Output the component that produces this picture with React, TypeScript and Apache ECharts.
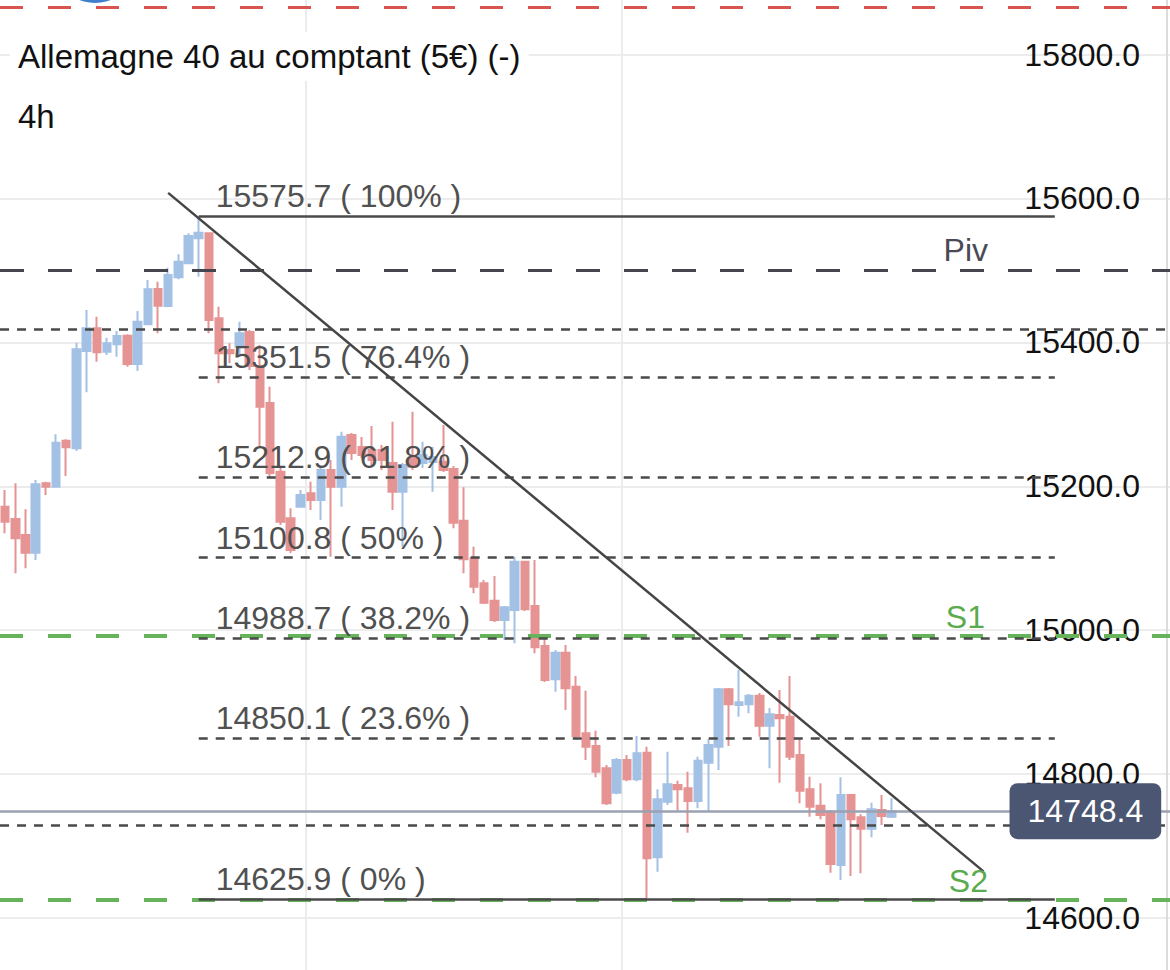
import React, { useEffect, useRef } from 'react';
import * as echarts from 'echarts';

const FONT = '"Liberation Sans", Arial, Helvetica, sans-serif';

// OHLC (4h candles, DAX / Allemagne 40)
const opens = [
  15171.6, 15154.5, 15132.3, 15107.6, 15204.1, 15199.4, 15263.3, 15252.7, 15388.0, 15419.5,
  15387.0, 15397.3, 15409.2, 15369.9, 15425.1, 15474.1, 15450.5, 15490.4, 15509.8, 15544.6,
  15551.5, 15433.4, 15389.3, 15393.9, 15414.4, 15367.1, 15315.7, 15220.2, 15155.5, 15171.6,
  15190.2, 15180.9, 15222.6, 15199.4, 15271.2, 15254.5, 15250.4, 15250.4, 15232.3, 15192.4,
  15239.3, 15232.3, 15233.7, 15234.1, 15224.0, 15152.1, 15099.9, 15065.1, 15041.0, 15014.1,
  15028.0, 15095.1, 15033.6, 14978.0, 14931.7, 14968.7, 14921.4, 14856.7, 14839.0, 14808.0,
  14774.1, 14819.6, 14792.7, 14829.7, 14684.4, 14761.6, 14784.8, 14780.2, 14762.6, 14815.8,
  14838.1, 14917.8, 14896.0, 14897.0, 14908.9, 14867.2, 14882.1, 14879.8, 14826.5, 14778.8,
  14756.1, 14747.7, 14673.7, 14770.9, 14739.9, 14724.1, 14750.1, 14740.8,
];
const closes = [
  15150.7, 15127.7, 15107.6, 15202.7, 15199.4, 15260.5, 15254.1, 15390.3, 15419.5, 15386.2,
  15398.7, 15408.8, 15369.9, 15428.7, 15473.7, 15450.9, 15493.6, 15512.1, 15547.8, 15552.4,
  15431.0, 15384.8, 15384.8, 15412.6, 15367.1, 15310.6, 15218.4, 15150.7, 15111.4, 15187.8,
  15180.9, 15222.6, 15199.4, 15268.9, 15246.2, 15243.4, 15236.5, 15236.5, 15192.4, 15229.5,
  15227.2, 15243.4, 15240.7, 15222.6, 15149.4, 15098.5, 15060.4, 15038.2, 15014.1, 15031.8,
  15095.1, 15029.0, 14976.2, 14930.8, 14968.7, 14919.2, 14852.9, 14838.1, 14803.3, 14759.4,
  14819.6, 14792.7, 14828.9, 14683.0, 14765.0, 14785.8, 14778.8, 14762.6, 14818.6, 14840.4,
  14917.8, 14897.0, 14899.7, 14908.9, 14867.2, 14883.1, 14877.5, 14824.2, 14776.9, 14754.7,
  14743.1, 14675.0, 14770.9, 14737.2, 14724.1, 14751.0, 14741.8, 14748.4,
];
const lows = [
  15134.6, 15079.0, 15086.0, 15097.5, 15187.8, 15199.0, 15214.2, 15249.0, 15330.6, 15373.1,
  15382.4, 15380.0, 15366.1, 15360.2, 15424.1, 15412.6, 15448.7, 15487.6, 15508.4, 15491.2,
  15412.6, 15343.1, 15370.9, 15380.0, 15361.6, 15255.0, 15211.5, 15146.2, 15107.2, 15171.2,
  15167.0, 15153.1, 15102.1, 15171.6, 15236.5, 15239.3, 15228.1, 15222.6, 15167.0, 15116.0,
  15222.6, 15225.4, 15192.4, 15219.8, 15141.6, 15079.0, 15051.2, 15036.4, 15011.3, 14986.3,
  14981.7, 15026.6, 14967.8, 14928.0, 14914.5, 14889.1, 14850.0, 14819.6, 14795.5, 14757.0,
  14772.0, 14790.0, 14790.0, 14627.4, 14664.3, 14757.0, 14747.7, 14718.5, 14752.5, 14749.1,
  14805.7, 14839.0, 14879.8, 14884.5, 14852.0, 14808.0, 14788.0, 14819.6, 14759.4, 14740.8,
  14737.2, 14663.0, 14652.8, 14658.4, 14662.1, 14712.1, 14729.2, 14739.0,
];
const highs = [
  15194.8, 15204.1, 15168.0, 15208.7, 15206.3, 15272.2, 15265.3, 15399.5, 15444.9, 15435.6,
  15406.4, 15415.7, 15411.2, 15443.5, 15486.6, 15484.3, 15503.7, 15522.3, 15551.5, 15575.7,
  15553.0, 15449.5, 15398.7, 15428.7, 15417.2, 15396.3, 15338.3, 15228.1, 15169.4, 15194.8,
  15206.3, 15226.8, 15236.5, 15275.8, 15274.0, 15268.4, 15283.7, 15257.3, 15289.7, 15232.3,
  15303.6, 15261.9, 15254.5, 15285.1, 15228.1, 15198.5, 15116.0, 15069.7, 15075.3, 15033.6,
  15102.1, 15096.5, 15097.5, 14987.3, 14972.5, 14979.4, 14936.3, 14915.9, 14860.3, 14812.6,
  14822.3, 14826.5, 14852.9, 14838.1, 14778.8, 14831.1, 14790.8, 14803.3, 14824.2, 14848.7,
  14919.6, 14919.6, 14944.6, 14911.3, 14912.7, 14891.8, 14916.9, 14936.3, 14848.3, 14796.4,
  14787.2, 14750.0, 14795.5, 14772.0, 14744.0, 14760.2, 14770.9, 14766.3,
];

// time slots (candles + empty space on the right)
const SLOT_COUNT = 115;
const slots = Array.from({ length: SLOT_COUNT }, (_, i) => `${i}`);
const dayBreaks = [30, 61];

// price axis ticks shown in the picture
const yTicks = { min: 14400, max: 16000, step: 200 };
const yTickLabels = [14600, 14800, 15000, 15200, 15400, 15600, 15800];

// Fibonacci retracement
const fibValues = [15575.7, 15351.5, 15212.9, 15100.8, 14988.7, 14850.1, 14625.9];
const fibPercents = ['100%', '76.4%', '61.8%', '50%', '38.2%', '23.6%', '0%'];
const fibStartSlot = 19;
const fibEndSlot = 103;

// other levels
const resistanceLevel = 15866;
const pivotLevel = 15500;
const s1Level = 14992;
const s2Level = 14625;
const dottedLevels = [15418, 14728.3];
const lastPrice = 14748.4;
const trendStart: [number, number] = [16, 15607.7];
const trendEnd: [number, number] = [96, 14664.8];
const priceTagSlot = 106;

const DARK = '#4a4a4a';
const GREEN = '#66b35b';

export default function App() {
  const ref = useRef<HTMLDivElement>(null);

  useEffect(() => {
    if (!ref.current) return;
    const chart = echarts.init(ref.current, undefined, { renderer: 'svg' });

    const candles = opens.map((o, i) => [o, closes[i], lows[i], highs[i]]);

    const fibLines = fibValues.map((v, i) => {
      const edge = i === 0 || i === fibValues.length - 1;
      return [
        {
          coord: [fibStartSlot, v],
          lineStyle: { color: DARK, width: 2.5, type: edge ? 'solid' : [9, 8] },
          label: {
            show: true,
            position: 'insideStartTop',
            distance: [17, 4],
            formatter: `${v.toFixed(1)} ( ${fibPercents[i]} )`,
            fontSize: 32,
            color: '#505050',
            fontFamily: FONT,
          },
        },
        { coord: [fibEndSlot, v] },
      ];
    });

    const levelLines: any[] = [
      {
        yAxis: resistanceLevel,
        lineStyle: { color: '#d9534f', width: 3, type: [23, 25] },
      },
      {
        yAxis: pivotLevel,
        lineStyle: { color: '#45454d', width: 3, type: [24, 24] },
        label: {
          show: true, position: 'insideEndTop', distance: [184, 4], formatter: 'Piv',
          fontSize: 32, color: '#4a4a55', fontFamily: FONT,
        },
      },
      {
        yAxis: s1Level,
        lineStyle: { color: GREEN, width: 4, type: [23, 25] },
        label: {
          show: true, position: 'insideEndTop', distance: [187, 3], formatter: 'S1',
          fontSize: 32, color: '#5aab4e', fontFamily: FONT,
        },
      },
      {
        yAxis: s2Level,
        lineStyle: { color: GREEN, width: 4, type: [23, 25] },
        label: {
          show: true, position: 'insideEndTop', distance: [184, 3], formatter: 'S2',
          fontSize: 32, color: '#5aab4e', fontFamily: FONT,
        },
      },
      ...dottedLevels.map((v) => ({
        yAxis: v,
        lineStyle: { color: DARK, width: 2.5, type: [9, 8] },
      })),
      {
        yAxis: lastPrice,
        lineStyle: { color: '#9aa1b0', width: 2.5, type: 'solid' },
      },
    ];

    const trendLine = [
      { coord: trendStart, lineStyle: { color: '#454545', width: 2.5, type: 'solid' } },
      { coord: trendEnd },
    ];

    chart.setOption({
      animation: false,
      backgroundColor: '#ffffff',
      textStyle: { fontFamily: FONT },
      title: [
        {
          text: 'Allemagne 40 au comptant (5€) (-)',
          left: 10,
          top: 32,
          padding: [8, 8],
          backgroundColor: '#ffffff',
          textStyle: { fontSize: 33, fontWeight: 'normal', color: '#111111', fontFamily: FONT },
        },
        {
          text: '4h',
          left: 10,
          top: 92,
          padding: [8, 8],
          textStyle: { fontSize: 33, fontWeight: 'normal', color: '#111111', fontFamily: FONT },
        },
      ],
      grid: {
        left: 0,
        top: -89.4,
        width: 1172,
        height: 1151.3,
        containLabel: false,
        outerBoundsMode: 'none',
      },
      xAxis: {
        type: 'category',
        data: slots,
        boundaryGap: true,
        axisLine: { show: false },
        axisTick: { show: false },
        axisLabel: { show: false },
        splitLine: {
          show: true,
          interval: (idx: number) => dayBreaks.includes(idx),
          lineStyle: { color: '#ececec', width: 2 },
        },
      },
      yAxis: {
        type: 'value',
        position: 'right',
        min: yTicks.min,
        max: yTicks.max,
        interval: yTicks.step,
        axisLine: { show: false },
        axisTick: { show: false },
        axisLabel: {
          inside: true,
          margin: 32,
          fontSize: 32,
          color: '#111111',
          fontFamily: FONT,
          formatter: (v: number) => (yTickLabels.includes(v) ? v.toFixed(1) : ''),
        },
        splitLine: { show: true, lineStyle: { color: '#ececec', width: 2 } },
      },
      graphic: [
        {
          type: 'line',
          shape: { x1: 1167, y1: 0, x2: 1167, y2: 970 },
          style: { stroke: '#dcdcdc', lineWidth: 2 },
          z: 1,
        },
        {
          type: 'circle',
          shape: { cx: 95, cy: -40, r: 43 },
          style: { fill: '#3f7fcc' },
          z: 1,
        },
      ],
      series: [
        {
          type: 'candlestick',
          data: candles,
          barWidth: 8,
          silent: true,
          itemStyle: {
            color: '#a3c0e5',
            color0: '#e59393',
            borderColor: '#a3c0e5',
            borderColor0: '#e59393',
            borderWidth: 2,
          },
          markLine: {
            silent: true,
            symbol: ['none', 'none'],
            z: 5,
            label: { show: false },
            emphasis: { disabled: true },
            data: [...levelLines, ...fibLines, trendLine],
          },
          markPoint: {
            silent: true,
            z: 10,
            data: [
              {
                coord: [priceTagSlot, lastPrice],
                symbol: 'rect',
                symbolSize: 1,
                itemStyle: { color: 'rgba(0,0,0,0)' },
                label: {
                  show: true,
                  position: 'inside',
                  formatter: lastPrice.toFixed(1),
                  color: '#ffffff',
                  fontSize: 32,
                  lineHeight: 32,
                  fontFamily: FONT,
                  backgroundColor: '#4b5672',
                  borderRadius: 8,
                  padding: [12, 18, 12, 18],
                },
              },
            ],
          },
        },
      ],
    });

    return () => chart.dispose();
  }, []);

  return (
    <div
      ref={ref}
      style={{ position: 'absolute', left: 0, top: 0, width: 1170, height: 970, background: '#fff' }}
    />
  );
}
